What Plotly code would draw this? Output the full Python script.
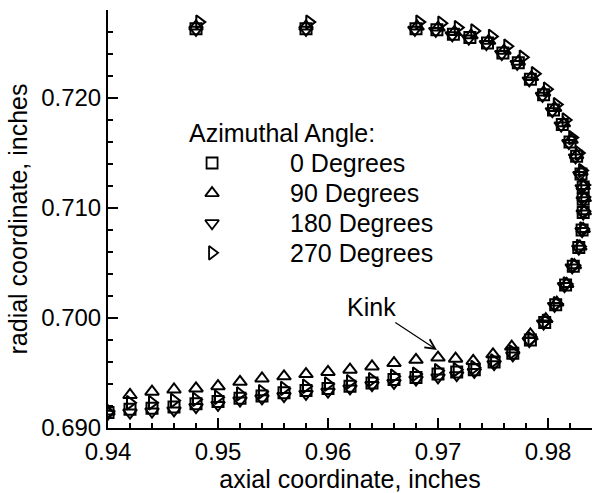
import plotly.graph_objects as go

# Measured profile points, one series per azimuthal station (inches)
x_0deg = [0.9400, 0.9420, 0.9440, 0.9460, 0.9480, 0.9500, 0.9520, 0.9540, 0.9560, 0.9580,
          0.9600, 0.9620, 0.9640, 0.9660, 0.9680, 0.9700, 0.9717, 0.9733, 0.9751, 0.9768,
          0.9784, 0.9797, 0.9807, 0.9816, 0.9823, 0.9828, 0.9831, 0.9832, 0.9832, 0.9832,
          0.9830, 0.9826, 0.9820, 0.9813, 0.9805, 0.9796, 0.9784, 0.9773, 0.9759, 0.9745,
          0.9729, 0.9714, 0.9699, 0.9680, 0.9580, 0.9480]
y_0deg = [0.6914, 0.6917, 0.6918, 0.6919, 0.6922, 0.6924, 0.6927, 0.6929, 0.6932, 0.6934,
          0.6936, 0.6938, 0.6941, 0.6944, 0.6946, 0.6949, 0.6951, 0.6953, 0.6960, 0.6968,
          0.6980, 0.6996, 0.7012, 0.7030, 0.7047, 0.7064, 0.7080, 0.7096, 0.7108, 0.7119,
          0.7131, 0.7147, 0.7160, 0.7176, 0.7189, 0.7203, 0.7217, 0.7232, 0.7241, 0.7250,
          0.7255, 0.7258, 0.7262, 0.7263, 0.7263, 0.7263]

x_90deg = [0.9400, 0.9420, 0.9440, 0.9460, 0.9480, 0.9500, 0.9520, 0.9540, 0.9560, 0.9580,
           0.9600, 0.9620, 0.9640, 0.9660, 0.9680, 0.9700, 0.9716, 0.9732, 0.9750, 0.9767,
           0.9784, 0.9798, 0.9808, 0.9817, 0.9824, 0.9829, 0.9832, 0.9833, 0.9833, 0.9832,
           0.9830, 0.9826, 0.9821, 0.9814, 0.9806, 0.9796, 0.9785, 0.9773, 0.9760, 0.9746,
           0.9730, 0.9715, 0.9700, 0.9681, 0.9580, 0.9480]
y_90deg = [0.6915, 0.6930, 0.6933, 0.6935, 0.6936, 0.6938, 0.6942, 0.6945, 0.6947, 0.6949,
           0.6951, 0.6953, 0.6956, 0.6959, 0.6962, 0.6964, 0.6963, 0.6961, 0.6967, 0.6974,
           0.6985, 0.6999, 0.7014, 0.7031, 0.7048, 0.7065, 0.7081, 0.7097, 0.7109, 0.7120,
           0.7133, 0.7148, 0.7162, 0.7177, 0.7191, 0.7205, 0.7219, 0.7233, 0.7243, 0.7252,
           0.7257, 0.7260, 0.7264, 0.7265, 0.7265, 0.7265]

x_180deg = [0.9400, 0.9420, 0.9440, 0.9460, 0.9480, 0.9500, 0.9520, 0.9540, 0.9560, 0.9580,
            0.9600, 0.9620, 0.9640, 0.9660, 0.9680, 0.9700, 0.9717, 0.9733, 0.9751, 0.9768,
            0.9783, 0.9796, 0.9806, 0.9815, 0.9822, 0.9828, 0.9831, 0.9832, 0.9832, 0.9831,
            0.9829, 0.9825, 0.9819, 0.9812, 0.9804, 0.9795, 0.9783, 0.9772, 0.9758, 0.9744,
            0.9728, 0.9713, 0.9698, 0.9679, 0.9580, 0.9480]
y_180deg = [0.6913, 0.6914, 0.6915, 0.6916, 0.6919, 0.6921, 0.6925, 0.6927, 0.6929, 0.6931,
            0.6933, 0.6936, 0.6939, 0.6941, 0.6944, 0.6946, 0.6948, 0.6951, 0.6958, 0.6966,
            0.6979, 0.6995, 0.7011, 0.7029, 0.7046, 0.7063, 0.7079, 0.7095, 0.7107, 0.7118,
            0.7130, 0.7146, 0.7159, 0.7175, 0.7188, 0.7202, 0.7216, 0.7231, 0.7240, 0.7249,
            0.7254, 0.7257, 0.7261, 0.7262, 0.7262, 0.7262]

x_270deg = [0.9400, 0.9420, 0.9440, 0.9460, 0.9480, 0.9500, 0.9520, 0.9540, 0.9560, 0.9580,
            0.9600, 0.9620, 0.9640, 0.9660, 0.9680, 0.9700, 0.9717, 0.9733, 0.9751, 0.9768,
            0.9785, 0.9798, 0.9808, 0.9817, 0.9824, 0.9829, 0.9832, 0.9833, 0.9833, 0.9833,
            0.9831, 0.9828, 0.9822, 0.9816, 0.9808, 0.9799, 0.9788, 0.9777, 0.9763, 0.9749,
            0.9733, 0.9718, 0.9703, 0.9683, 0.9583, 0.9483]
y_270deg = [0.6914, 0.6923, 0.6923, 0.6925, 0.6926, 0.6928, 0.6931, 0.6933, 0.6936, 0.6938,
            0.6940, 0.6942, 0.6944, 0.6947, 0.6949, 0.6952, 0.6953, 0.6955, 0.6961, 0.6969,
            0.6981, 0.6997, 0.7013, 0.7031, 0.7048, 0.7065, 0.7081, 0.7097, 0.7110, 0.7121,
            0.7134, 0.7150, 0.7164, 0.7180, 0.7194, 0.7208, 0.7222, 0.7237, 0.7247, 0.7256,
            0.7261, 0.7264, 0.7268, 0.7269, 0.7269, 0.7269]

series_labels = ["0 Degrees", "90 Degrees", "180 Degrees", "270 Degrees"]
legend_title = "Azimuthal Angle:"
kink_label = "Kink"
kink_point = (0.9699, 0.6971)

FONT = "Liberation Sans, Arial, Helvetica, sans-serif"
INK = "black"
symbols = ["square-open", "triangle-up-open", "triangle-down-open", "triangle-right-open"]
sizes = [11, 12, 12, 12]
xs = [x_0deg, x_90deg, x_180deg, x_270deg]
ys = [y_0deg, y_90deg, y_180deg, y_270deg]

fig = go.Figure()
for xv, yv, sym, sz, name in zip(xs, ys, symbols, sizes, series_labels):
    fig.add_trace(go.Scatter(
        x=xv, y=yv, mode="markers", name=name, showlegend=False,
        marker=dict(symbol=sym, size=sz, color=INK, line=dict(color=INK, width=2)),
    ))

# Key drawn inside the plot area on a hidden 0..1 overlay axis pair
key_x_sym = 0.215
key_x_txt = 0.372
key_rows = [0.634, 0.562, 0.490, 0.419]
key_title_y = 0.706
key_title_x = 0.163
for sym, sz, row, name in zip(symbols, sizes, key_rows, series_labels):
    fig.add_trace(go.Scatter(
        x=[key_x_sym], y=[row], xaxis="x2", yaxis="y2", mode="markers",
        showlegend=False, hoverinfo="skip",
        marker=dict(symbol=sym, size=sz, color=INK, line=dict(color=INK, width=1.8)),
    ))
    fig.add_annotation(x=key_x_txt, y=row, xref="paper", yref="paper", text=name,
                       showarrow=False, xanchor="left", yanchor="middle",
                       font=dict(family=FONT, size=25, color=INK))
fig.add_annotation(x=key_title_x, y=key_title_y, xref="paper", yref="paper", text=legend_title,
                   showarrow=False, xanchor="left", yanchor="middle",
                   font=dict(family=FONT, size=25, color=INK))

fig.add_annotation(x=kink_point[0], y=kink_point[1], xref="x", yref="y", text=kink_label,
                   showarrow=True, ax=-65, ay=-43, arrowhead=5, arrowsize=1.6,
                   arrowwidth=1.2, arrowcolor=INK,
                   font=dict(family=FONT, size=25, color=INK))

axis_common = dict(
    showline=True, linecolor=INK, linewidth=2, showgrid=False, zeroline=False,
    ticks="inside", ticklen=10, tickwidth=1.5, tickcolor=INK,
    tickfont=dict(family=FONT, size=24, color=INK),
    minor=dict(ticks="inside", ticklen=5, tickwidth=1.5, tickcolor=INK),
)

fig.update_layout(
    width=596, height=493,
    margin=dict(l=108, r=4, t=10, b=65),
    paper_bgcolor="white", plot_bgcolor="white",
    font=dict(family=FONT, size=25, color=INK),
    hovermode=False,
    xaxis=dict(range=[0.94, 0.984], tick0=0.94, dtick=0.01, tickformat=".2f",
               minor_dtick=0.002, ticklabelstandoff=1,
               title=dict(text="axial coordinate, inches", standoff=2,
                          font=dict(family=FONT, size=25, color=INK)),
               **axis_common),
    yaxis=dict(range=[0.690, 0.728], tick0=0.69, dtick=0.01, tickformat=".3f",
               minor_dtick=0.002, ticklabelstandoff=0,
               title=dict(text="radial coordinate, inches", standoff=6,
                          font=dict(family=FONT, size=25, color=INK)),
               **axis_common),
    xaxis2=dict(overlaying="x", range=[0, 1], visible=False),
    yaxis2=dict(overlaying="y", range=[0, 1], visible=False),
)

fig.write_html("out.html")
